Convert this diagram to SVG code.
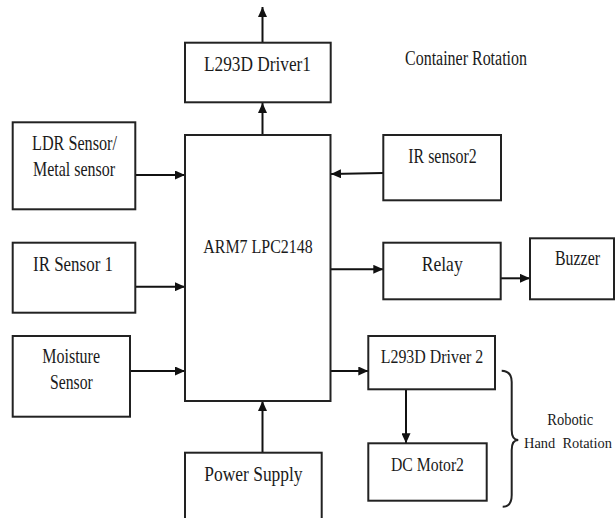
<svg xmlns="http://www.w3.org/2000/svg" width="615" height="518" viewBox="0 0 615 518">
<defs>
<style>
.box{fill:#fff;stroke:#222;stroke-width:2}
.t{font-family:"Liberation Serif","Times New Roman",Times,serif;fill:#1a1a1a;white-space:pre}
.c{stroke:#111;stroke-width:2;fill:none;marker-end:url(#ah)}
.brace{stroke:#222;stroke-width:2;fill:none}
</style>
<marker id="ah" markerUnits="userSpaceOnUse" markerWidth="11" markerHeight="9" refX="10" refY="4.5" orient="auto">
<path d="M0,0 L10,4.5 L0,9 z" fill="#111"/>
</marker>
</defs>
<rect width="615" height="518" fill="#fff"/>
<g id="connectors">
<line class="c" x1="262.5" y1="43" x2="262.5" y2="7"/>
<line class="c" x1="262.5" y1="135" x2="262.5" y2="103"/>
<line class="c" x1="135.3" y1="175" x2="185" y2="175"/>
<line class="c" x1="383.3" y1="173" x2="331" y2="174"/>
<line class="c" x1="135.3" y1="286.7" x2="185" y2="286.7"/>
<line class="c" x1="130" y1="371" x2="185" y2="371"/>
<line class="c" x1="262.5" y1="452.7" x2="262.5" y2="401"/>
<line class="c" x1="331" y1="269.3" x2="383.3" y2="269.3"/>
<line class="c" x1="500.7" y1="278.3" x2="530" y2="278.3"/>
<line class="c" x1="330" y1="371" x2="368.3" y2="371"/>
<line class="c" x1="406" y1="389.3" x2="406" y2="443.3"/>
</g>
<g id="driver1">
<rect class="box" x="185" y="42.7" width="145.7" height="59.6"/>
<text class="t" x="204" y="71" font-size="21" textLength="107" lengthAdjust="spacingAndGlyphs">L293D Driver1</text>
</g>
<g id="container-label">
<text class="t" x="405" y="65" font-size="20" textLength="122" lengthAdjust="spacingAndGlyphs">Container Rotation</text>
</g>
<g id="ldr">
<rect class="box" x="12.7" y="122.3" width="122.6" height="87"/>
<text class="t" x="32" y="150" font-size="21" textLength="85" lengthAdjust="spacingAndGlyphs">LDR Sensor/</text>
<text class="t" x="33" y="175.7" font-size="21" textLength="82" lengthAdjust="spacingAndGlyphs">Metal sensor</text>
</g>
<g id="arm">
<rect class="box" x="185" y="135" width="145.5" height="266"/>
<text class="t" x="203.3" y="252.7" font-size="19" textLength="109.4" lengthAdjust="spacingAndGlyphs">ARM7 LPC2148</text>
</g>
<g id="irsensor2">
<rect class="box" x="383.3" y="135" width="117.7" height="65.3"/>
<text class="t" x="408.3" y="162.7" font-size="20" textLength="68.4" lengthAdjust="spacingAndGlyphs">IR sensor2</text>
</g>
<g id="irsensor1">
<rect class="box" x="12.7" y="242.7" width="122.6" height="70"/>
<text class="t" x="33" y="270.7" font-size="20" textLength="80" lengthAdjust="spacingAndGlyphs">IR Sensor 1</text>
</g>
<g id="relay">
<rect class="box" x="383.3" y="242.7" width="117.4" height="56.6"/>
<text class="t" x="421.7" y="270.7" font-size="21" textLength="41" lengthAdjust="spacingAndGlyphs">Relay</text>
</g>
<g id="buzzer">
<rect class="box" x="530" y="238.3" width="84" height="61"/>
<text class="t" x="555" y="265" font-size="20" textLength="45" lengthAdjust="spacingAndGlyphs">Buzzer</text>
</g>
<g id="moisture">
<rect class="box" x="12.7" y="336" width="117.3" height="80.7"/>
<text class="t" x="42.3" y="363.3" font-size="20" textLength="57.7" lengthAdjust="spacingAndGlyphs">Moisture</text>
<text class="t" x="50" y="389" font-size="20" textLength="42.7" lengthAdjust="spacingAndGlyphs">Sensor</text>
</g>
<g id="driver2">
<rect class="box" x="368.3" y="336" width="126.7" height="53.3"/>
<text class="t" x="380.7" y="362.7" font-size="18" textLength="102.6" lengthAdjust="spacingAndGlyphs">L293D Driver 2</text>
</g>
<g id="dcmotor2">
<rect class="box" x="368.3" y="443.3" width="118.4" height="57.4"/>
<text class="t" x="391" y="470.7" font-size="19" textLength="73" lengthAdjust="spacingAndGlyphs">DC Motor2</text>
</g>
<g id="robotic-label">
<path class="brace" d="M501.7,370.7 Q511.7,371 511.7,382 L511.7,430 Q511.7,440 518.3,440 Q511.7,440 511.7,450 L511.7,495 Q511.7,506.7 502.7,506.7"/>
<text class="t" x="547.3" y="425" font-size="16" textLength="46" lengthAdjust="spacingAndGlyphs">Robotic</text>
<text class="t" x="524" y="448.3" font-size="14.8" textLength="88" lengthAdjust="spacingAndGlyphs">Hand  Rotation</text>
</g>
<g id="power">
<rect class="box" x="185" y="452.7" width="136.7" height="70"/>
<text class="t" x="204.3" y="481" font-size="21" textLength="98.3" lengthAdjust="spacingAndGlyphs">Power Supply</text>
</g>
</svg>
